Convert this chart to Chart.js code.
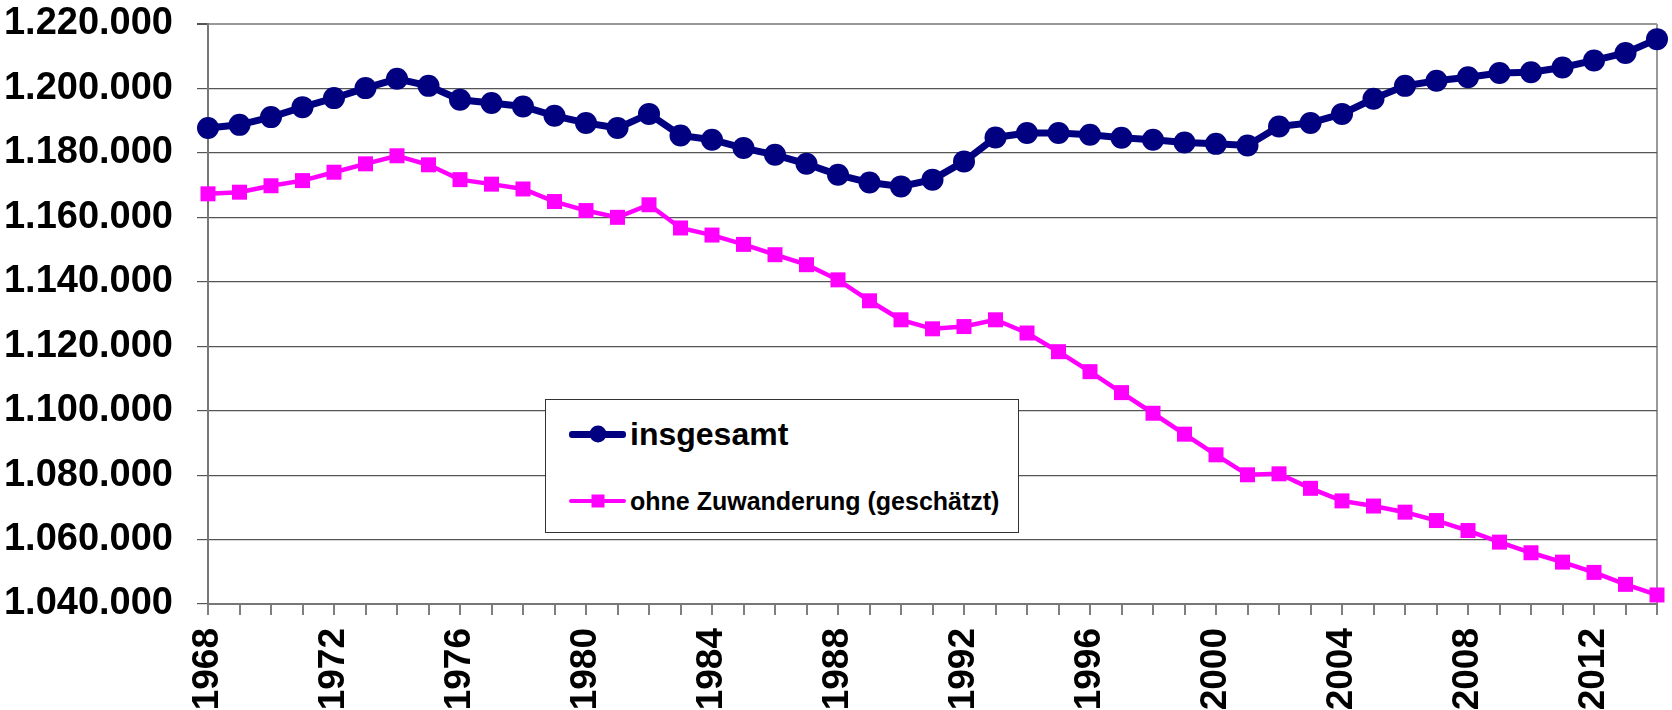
<!DOCTYPE html>
<html>
<head>
<meta charset="utf-8">
<script src="https://cdn.jsdelivr.net/npm/chart.js@4.4.1/dist/chart.umd.min.js"></script>
<style>
  html, body { margin: 0; padding: 0; background: #fff; }
  #wrap { position: relative; width: 1672px; height: 710px; }
  #legend {
    position: absolute; left: 545px; top: 399px; width: 472px; height: 132px;
    border: 1px solid #333; background: #fff;
    font-family: "Liberation Sans", Arial, sans-serif; font-weight: bold; color: #000;
  }
  .item { position: absolute; left: 23px; height: 34px; display: flex; align-items: center; }
  .sample { position: relative; width: 57px; margin-right: 4px; }
  .mark { position: absolute; left: 50%; top: 50%; transform: translate(-50%, -50%); }
</style>
</head>
<body>
<div id="wrap">
  <canvas id="chart" width="1672" height="710"></canvas>
  <div id="legend"></div>
</div>
<script>
// Einwohner 1968-2014
const years = [
  1968, 1969, 1970, 1971, 1972, 1973, 1974, 1975, 1976, 1977, 1978, 1979,
  1980, 1981, 1982, 1983, 1984, 1985, 1986, 1987, 1988, 1989, 1990, 1991,
  1992, 1993, 1994, 1995, 1996, 1997, 1998, 1999, 2000, 2001, 2002, 2003,
  2004, 2005, 2006, 2007, 2008, 2009, 2010, 2011, 2012, 2013, 2014
];

const insgesamt = [
  1187700, 1188700, 1191100, 1194200, 1197000, 1200100, 1203000, 1200800,
  1196500, 1195500, 1194400, 1191500, 1189300, 1187700, 1192100, 1185400,
  1184100, 1181500, 1179400, 1176600, 1173200, 1170800, 1169600, 1171700,
  1177300, 1184800, 1186200, 1186200, 1185600, 1184700, 1184100, 1183200,
  1182800, 1182300, 1188200, 1189300, 1192100, 1196800, 1200800, 1202400,
  1203500, 1204800, 1205000, 1206500, 1208700, 1211000, 1215300
];

const ohneZuwanderung = [
  1167300, 1167800, 1169800, 1171400, 1174000, 1176600, 1179100, 1176300,
  1171700, 1170300, 1168800, 1164900, 1162100, 1160000, 1163900, 1156700,
  1154500, 1151600, 1148400, 1145300, 1140600, 1134100, 1128200, 1125400,
  1126100, 1128200, 1124100, 1118300, 1112100, 1105600, 1099200, 1092700,
  1086300, 1080100, 1080400, 1075900, 1072000, 1070400, 1068500, 1065900,
  1062800, 1059200, 1055900, 1053000, 1049800, 1046100, 1042800
];

const seriesNames = ['insgesamt', 'ohne Zuwanderung (geschätzt)'];

// y axis: 1.040.000 .. 1.220.000
const yMin = 1040000;
const yMax = 1220000;
const yStep = 20000;
const labelEvery = 4;

const navy = '#000080';
const pink = '#FF00FF';
const font = '"Liberation Sans", Arial, sans-serif';

function fmt(v) {
  return String(v).replace(/\B(?=(\d{3})+(?!\d))/g, '.');
}

const ctx = document.getElementById('chart').getContext('2d');

const chart = new Chart(ctx, {
  type: 'line',
  data: {
    labels: years,
    datasets: [
      {
        label: seriesNames[0],
        data: insgesamt,
        borderColor: navy,
        backgroundColor: navy,
        borderWidth: 7,
        pointStyle: 'circle',
        pointRadius: 11,
        pointBorderWidth: 0,
        pointBackgroundColor: navy,
        tension: 0,
        clip: false
      },
      {
        label: seriesNames[1],
        data: ohneZuwanderung,
        borderColor: pink,
        backgroundColor: pink,
        borderWidth: 4.5,
        pointStyle: 'rect',
        pointRadius: 10.6,
        pointBorderWidth: 0,
        pointBackgroundColor: pink,
        tension: 0,
        clip: false
      }
    ]
  },
  options: {
    responsive: false,
    animation: false,
    devicePixelRatio: 1,
    layout: { padding: { top: 24, right: 15, left: 0, bottom: 0 } },
    plugins: {
      legend: { display: false },
      tooltip: { enabled: false }
    },
    scales: {
      x: {
        type: 'category',
        offset: false,
        border: { color: '#777', width: 2 },
        grid: {
          drawOnChartArea: true,
          color: c => (c.index === years.length - 1 ? '#999' : 'rgba(0,0,0,0)'),
          lineWidth: 2,
          tickColor: '#555',
          tickWidth: 1.5,
          tickLength: 11
        },
        ticks: {
          autoSkip: false,
          minRotation: 90,
          maxRotation: 90,
          padding: 13,
          color: '#000',
          font: { family: font, size: 37, weight: 'bold' },
          callback: (val, i) => ((years[i] - years[0]) % labelEvery === 0 ? String(years[i]) : '')
        },
        afterFit: s => {
          s.height = 106;
          s.paddingLeft = 0;
          s.paddingRight = 0;
        }
      },
      y: {
        min: yMin,
        max: yMax,
        border: { color: '#777', width: 2 },
        grid: {
          color: c => (c.tick && c.tick.value === yMax ? '#999' : '#555'),
          lineWidth: c => (c.tick && c.tick.value === yMax ? 2 : 1.2),
          tickColor: '#555',
          tickLength: 11
        },
        ticks: {
          stepSize: yStep,
          padding: 24,
          color: '#000',
          font: { family: font, size: 38, weight: 'bold' },
          callback: v => fmt(v)
        },
        afterFit: s => {
          s.width = 208;
          s.paddingTop = 0;
          s.paddingBottom = 0;
        }
      }
    }
  }
});

// Legend box inside the plot, built from the datasets
const legend = document.getElementById('legend');
const legendTops = [17, 84];
const legendSizes = [32, 25];
chart.data.datasets.forEach((ds, i) => {
  const item = document.createElement('div');
  item.className = 'item';
  item.style.top = legendTops[i] + 'px';
  const sample = document.createElement('div');
  sample.className = 'sample';
  sample.style.height = ds.borderWidth + 'px';
  sample.style.background = ds.borderColor;
  sample.style.borderRadius = '3px';
  const mark = document.createElement('div');
  mark.className = 'mark';
  if (ds.pointStyle === 'circle') {
    mark.style.width = '17px';
    mark.style.height = '17px';
    mark.style.borderRadius = '50%';
  } else {
    mark.style.width = '13px';
    mark.style.height = '13px';
  }
  mark.style.background = ds.pointBackgroundColor;
  sample.appendChild(mark);
  const text = document.createElement('span');
  text.textContent = ds.label;
  text.style.fontSize = legendSizes[i] + 'px';
  item.appendChild(sample);
  item.appendChild(text);
  legend.appendChild(item);
});
</script>
</body>
</html>
